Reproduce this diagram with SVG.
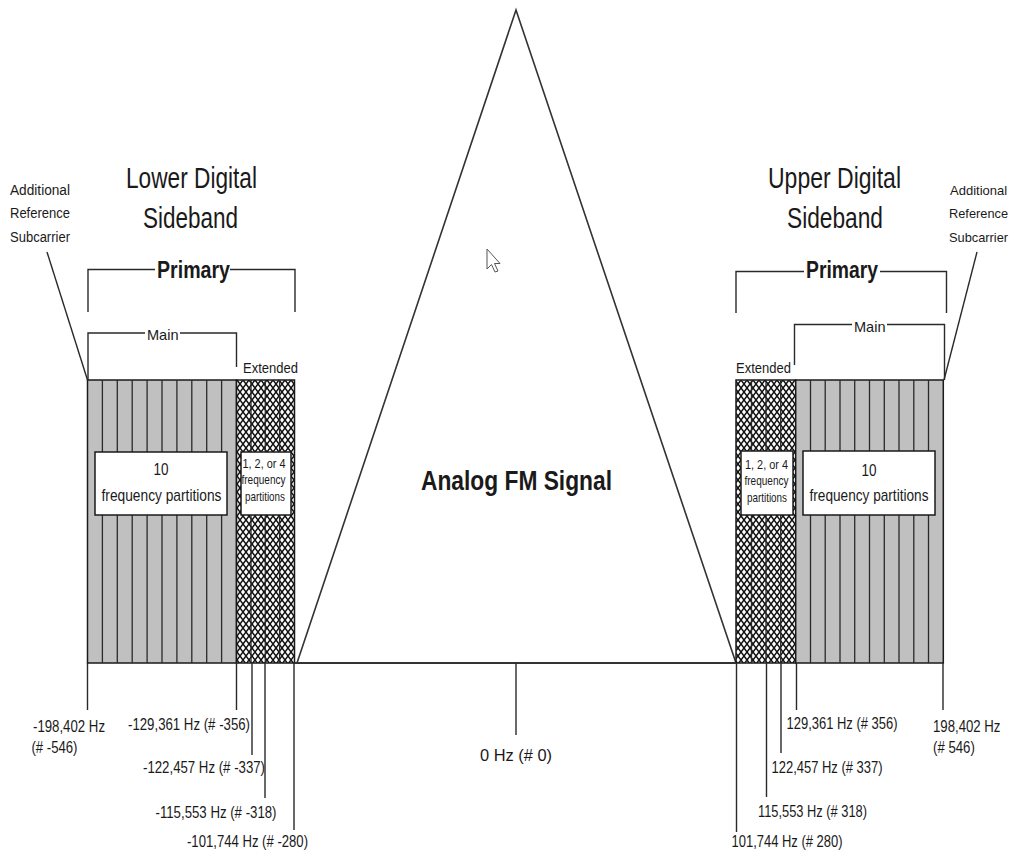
<svg xmlns="http://www.w3.org/2000/svg" width="1012" height="853" viewBox="0 0 1012 853">
<style>
text{font-family:"Liberation Sans",Arial,sans-serif;fill:#1a1a1a}
.t{font-size:29px}
.b{font-weight:bold}
.s{font-size:15px}
.l{font-size:16px}
.ln{fill:none;stroke:#2a2a2a;stroke-width:1.4}
.strip{stroke:#2a2a2a;stroke-width:1.3}
.box{fill:#fff;stroke:#1a1a1a;stroke-width:1.5}
.mid{text-anchor:middle}
</style>
<defs>
<pattern id="hatch" patternUnits="userSpaceOnUse" width="6" height="8">
<rect width="6" height="8" fill="#fff"/>
<path d="M0,0 L6,8 M6,0 L0,8" stroke="#111" stroke-width="1.5"/>
</pattern>
</defs>
<rect width="1012" height="853" fill="#fff"/>

<g id="analog-fm">
<path d="M297,663 L516,10 L736,663" fill="none" stroke="#333" stroke-width="1.6"/>
<text x="421" y="490" class="b" font-size="28" textLength="191" lengthAdjust="spacingAndGlyphs">Analog FM Signal</text>
<polygon points="487,249 487,269 491.5,264.5 495,272 498,271 494.5,263.5 500,263.5" fill="#fff" stroke="#555" stroke-width="1"/>
</g>

<g id="lower-sideband">
<rect x="87.5" y="380" width="149" height="283" fill="#c0c0c0" stroke="#1a1a1a" stroke-width="1.5"/>
<path class="strip" d="M102.4,380V663M117.3,380V663M132.2,380V663M147.1,380V663M162,380V663M176.9,380V663M191.8,380V663M206.7,380V663M221.6,380V663"/>
<rect x="236.5" y="380" width="58" height="283" fill="url(#hatch)" stroke="#1a1a1a" stroke-width="1.5"/>
<path class="strip" d="M251,380V663M265.3,380V663M279.6,380V663"/>
<rect class="box" x="95" y="452" width="132" height="63"/>
<text x="161" y="475" class="mid" font-size="17" textLength="15" lengthAdjust="spacingAndGlyphs">10</text>
<text x="101.5" y="501" font-size="17" textLength="120" lengthAdjust="spacingAndGlyphs">frequency partitions</text>
<rect class="box" x="241" y="452" width="50" height="63"/>
<text x="242.5" y="468" font-size="13" textLength="43" lengthAdjust="spacingAndGlyphs">1, 2, or 4</text>
<text x="241.5" y="484" font-size="13" textLength="44" lengthAdjust="spacingAndGlyphs">frequency</text>
<text x="245" y="501" font-size="13" textLength="40" lengthAdjust="spacingAndGlyphs">partitions</text>
<text x="126" y="188" class="t" textLength="131" lengthAdjust="spacingAndGlyphs">Lower Digital</text>
<text x="143" y="228" class="t" textLength="95" lengthAdjust="spacingAndGlyphs">Sideband</text>
<text x="157" y="278" class="b" font-size="24" textLength="73" lengthAdjust="spacingAndGlyphs">Primary</text>
<text x="147" y="340" class="s" textLength="31.5" lengthAdjust="spacingAndGlyphs">Main</text>
<text x="243" y="373" class="s" textLength="55" lengthAdjust="spacingAndGlyphs">Extended</text>
<text x="10" y="195" font-size="14" textLength="60" lengthAdjust="spacingAndGlyphs">Additional</text>
<text x="10" y="218" font-size="14" textLength="60" lengthAdjust="spacingAndGlyphs">Reference</text>
<text x="10" y="242" font-size="14" textLength="60" lengthAdjust="spacingAndGlyphs">Subcarrier</text>
</g>

<g id="upper-sideband">
<rect x="736" y="380" width="59.7" height="283" fill="url(#hatch)" stroke="#1a1a1a" stroke-width="1.5"/>
<path class="strip" d="M751.5,380V663M766,380V663M780.7,380V663"/>
<rect x="795.7" y="380" width="147.6" height="283" fill="#c0c0c0" stroke="#1a1a1a" stroke-width="1.5"/>
<path class="strip" d="M810.5,380V663M825.2,380V663M840,380V663M854.7,380V663M869.5,380V663M884.3,380V663M899,380V663M913.8,380V663M928.5,380V663"/>
<rect class="box" x="741" y="451" width="52" height="64"/>
<text x="745" y="469" font-size="13" textLength="43" lengthAdjust="spacingAndGlyphs">1, 2, or 4</text>
<text x="744.5" y="485" font-size="13" textLength="44" lengthAdjust="spacingAndGlyphs">frequency</text>
<text x="747" y="502" font-size="13" textLength="40" lengthAdjust="spacingAndGlyphs">partitions</text>
<rect class="box" x="803" y="451" width="132" height="64"/>
<text x="869" y="476" class="mid" font-size="17" textLength="15" lengthAdjust="spacingAndGlyphs">10</text>
<text x="809.5" y="501" font-size="17" textLength="119" lengthAdjust="spacingAndGlyphs">frequency partitions</text>
<text x="768" y="188" class="t" textLength="133" lengthAdjust="spacingAndGlyphs">Upper Digital</text>
<text x="787" y="228" class="t" textLength="96" lengthAdjust="spacingAndGlyphs">Sideband</text>
<text x="806" y="278" class="b" font-size="24" textLength="72" lengthAdjust="spacingAndGlyphs">Primary</text>
<text x="854" y="331.5" class="s" textLength="31.5" lengthAdjust="spacingAndGlyphs">Main</text>
<text x="736" y="373" class="s" textLength="55" lengthAdjust="spacingAndGlyphs">Extended</text>
<text x="950" y="195" font-size="13">Additional</text>
<text x="949" y="218" font-size="12.8">Reference</text>
<text x="949" y="242" font-size="12.8">Subcarrier</text>
</g>

<g id="frequency-labels">
<text x="33" y="732" class="l" textLength="72" lengthAdjust="spacingAndGlyphs">-198,402 Hz</text>
<text x="31.5" y="753" class="l" textLength="46" lengthAdjust="spacingAndGlyphs">(# -546)</text>
<text x="128" y="730" class="l" textLength="122" lengthAdjust="spacingAndGlyphs">-129,361 Hz (# -356)</text>
<text x="143" y="773" class="l" textLength="122" lengthAdjust="spacingAndGlyphs">-122,457 Hz (# -337)</text>
<text x="155.5" y="818" class="l" textLength="121" lengthAdjust="spacingAndGlyphs">-115,553 Hz (# -318)</text>
<text x="187" y="847" class="l" textLength="121" lengthAdjust="spacingAndGlyphs">-101,744 Hz (# -280)</text>
<text x="480" y="761" class="l" textLength="72" lengthAdjust="spacingAndGlyphs">0 Hz  (# 0)</text>
<text x="731.5" y="847" class="l" textLength="111" lengthAdjust="spacingAndGlyphs">101,744 Hz (# 280)</text>
<text x="758" y="817" class="l" textLength="109" lengthAdjust="spacingAndGlyphs">115,553 Hz (# 318)</text>
<text x="771.5" y="773" class="l" textLength="111" lengthAdjust="spacingAndGlyphs">122,457 Hz (# 337)</text>
<text x="786.5" y="729" class="l" textLength="111" lengthAdjust="spacingAndGlyphs">129,361 Hz (# 356)</text>
<text transform="translate(933,732) scale(1,1.2)" font-size="13.2">198,402 Hz</text>
<text transform="translate(933,753) scale(1,1.2)" font-size="13.2">(# 546)</text>
</g>

<g id="connectors">
<path d="M294.5,663 H736" fill="none" stroke="#333" stroke-width="2"/>
<path class="ln" d="M88,312 V269.5 H155 M230,269.5 H295 V312"/>
<path class="ln" d="M88,380 V333 H145 M180,333 H236.5 V367"/>
<path class="ln" d="M736,313 V271.5 H804 M880,271.5 H946.5 V313"/>
<path class="ln" d="M794.5,365 V324.5 H852 M887,324.5 H944.5 V380"/>
<path class="ln" d="M47,252 L87.5,380"/>
<path class="ln" d="M977,252 L944,380"/>
<path class="ln" d="M87.5,663V710M236.5,663V710M252,663V755M265,663V798M294,663V830"/>
<path class="ln" d="M516,663V735"/>
<path class="ln" d="M736.5,663V832M766.5,663V797M781,663V753M796.5,663V710M943,663V710"/>
</g>
</svg>
